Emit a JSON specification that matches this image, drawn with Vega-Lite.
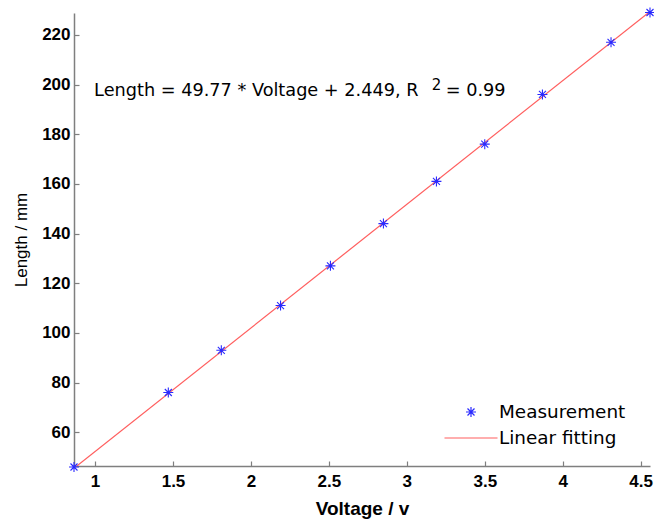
{
  "$schema": "https://vega.github.io/schema/vega-lite/v6.json",
  "width": 576,
  "height": 453,
  "autosize": "none",
  "padding": {"left": 74, "top": 13, "right": 4, "bottom": 55},
  "background": "white",
  "config": {
    "view": {"stroke": null},
    "font": "Liberation Sans",
    "axis": {
      "grid": false,
      "domainColor": "#7f7f7f",
      "domainWidth": 1.5,
      "tickColor": "#7f7f7f",
      "tickWidth": 1.2,
      "tickSize": -5,
      "labelFont": "Liberation Sans",
      "labelFontWeight": "bold",
      "labelFontSize": 17,
      "labelColor": "#000000",
      "titleFont": "Liberation Sans",
      "titleColor": "#000000"
    }
  },
  "datasets": {
    "measurement": [
      {"voltage": 0.865, "length": 46.0, "series": "Measurement"},
      {"voltage": 1.47, "length": 76.0, "series": "Measurement"},
      {"voltage": 1.81, "length": 93.0, "series": "Measurement"},
      {"voltage": 2.19, "length": 111.0, "series": "Measurement"},
      {"voltage": 2.51, "length": 127.0, "series": "Measurement"},
      {"voltage": 2.85, "length": 144.0, "series": "Measurement"},
      {"voltage": 3.19, "length": 161.0, "series": "Measurement"},
      {"voltage": 3.50, "length": 176.0, "series": "Measurement"},
      {"voltage": 3.87, "length": 196.0, "series": "Measurement"},
      {"voltage": 4.31, "length": 217.0, "series": "Measurement"},
      {"voltage": 4.56, "length": 229.0, "series": "Measurement"}
    ],
    "fit": [
      {"voltage": 0.865, "length": 45.5, "series": "Linear fitting"},
      {"voltage": 4.56, "length": 229.4, "series": "Linear fitting"}
    ],
    "notes": [
      {"voltage": 0.994, "length": 197.2, "text": "Length = 49.77 * Voltage + 2.449, R", "size": 17.7},
      {"voltage": 3.16, "length": 199.8, "text": "2", "size": 15},
      {"voltage": 3.25, "length": 197.2, "text": "= 0.99", "size": 17.7}
    ]
  },
  "layer": [
    {
      "data": {"name": "fit"},
      "mark": {"type": "line", "clip": true, "strokeWidth": 1.2},
      "encoding": {
        "x": {
          "field": "voltage", "type": "quantitative",
          "scale": {"domain": [0.865, 4.56], "nice": false, "zero": false},
          "axis": {"title": "Voltage / v", "titleFontSize": 19, "titleFontWeight": "bold", "values": [1, 1.5, 2, 2.5, 3, 3.5, 4, 4.5], "format": "~g", "labelPadding": 12, "titlePadding": 10}
        },
        "y": {
          "field": "length", "type": "quantitative",
          "scale": {"domain": [46.4, 228.8], "nice": false, "zero": false},
          "axis": {"title": "Length / mm", "titleFontSize": 17, "titleFontWeight": "normal", "values": [60, 80, 100, 120, 140, 160, 180, 200, 220], "labelPadding": 9, "titlePadding": 11}
        },
        "color": {
          "field": "series", "type": "nominal",
          "scale": {"domain": ["Measurement", "Linear fitting"], "range": ["#2a2aff", "#ff5e5e"]},
          "legend": {
            "title": null, "orient": "none", "legendX": 386, "legendY": 388,
            "labelFontSize": 18.4, "labelFont": "DejaVu Sans", "labelColor": "#000000",
            "labelOffset": 17, "symbolSize": 400, "symbolStrokeWidth": 1.2, "rowPadding": 5,
            "padding": 0
          }
        }
      }
    },
    {
      "data": {"name": "measurement"},
      "mark": {"type": "point", "filled": false, "strokeWidth": 1.1, "size": 400, "opacity": 1},
      "encoding": {
        "x": {"field": "voltage", "type": "quantitative"},
        "y": {"field": "length", "type": "quantitative"},
        "color": {"field": "series", "type": "nominal"},
        "shape": {
          "field": "series", "type": "nominal",
          "scale": {"domain": ["Measurement", "Linear fitting"], "range": ["M-0.5,0L0.5,0M0,-0.5L0,0.5M-0.35,-0.35L0.35,0.35M-0.35,0.35L0.35,-0.35", "M-2.65,0L2.65,0"]}
        }
      }
    },
    {
      "data": {"name": "notes"},
      "mark": {"type": "text", "align": "left", "baseline": "middle", "font": "DejaVu Sans", "color": "#000000"},
      "encoding": {
        "x": {"field": "voltage", "type": "quantitative"},
        "y": {"field": "length", "type": "quantitative"},
        "text": {"field": "text"},
        "size": {"field": "size", "type": "quantitative", "scale": null}
      }
    }
  ]
}
